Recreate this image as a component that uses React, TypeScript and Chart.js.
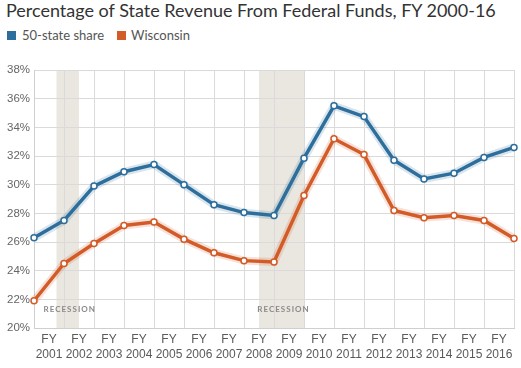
import React, { useEffect, useRef } from "react";
import { Chart, registerables } from "chart.js";

Chart.register(...registerables);

const years = ["2000", "2001", "2002", "2003", "2004", "2005", "2006", "2007", "2008", "2009", "2010", "2011", "2012", "2013", "2014", "2015", "2016"];
const tickYears = ["2001", "2002", "2003", "2004", "2005", "2006", "2007", "2008", "2009", "2010", "2011", "2012", "2013", "2014", "2015", "2016"];
const fiftyState = [26.3, 27.5, 29.9, 30.9, 31.4, 30.0, 28.6, 28.05, 27.85, 31.85, 35.5, 34.75, 31.7, 30.4, 30.8, 31.9, 32.6];
const wisconsin = [21.9, 24.5, 25.9, 27.15, 27.4, 26.2, 25.25, 24.7, 24.6, 29.25, 33.2, 32.1, 28.2, 27.7, 27.85, 27.5, 26.25];
const recessions = [
  [0.75, 1.5],
  [7.5, 9],
];
const recessionLabel = "RECESSION";
const title = "Percentage of State Revenue From Federal Funds, FY 2000-16";
const seriesNames = ["50-state share", "Wisconsin"];

const BLUE = "#2d6e9c";
const ORANGE = "#d25b27";

const recessionPlugin = {
  id: "recession",
  beforeDraw(chart: any) {
    const { ctx, chartArea, scales } = chart;
    const x = scales.x;
    ctx.save();
    ctx.fillStyle = "#e9e7df";
    recessions.forEach(([a, b]) => {
      const x0 = x.getPixelForValue(a);
      const x1 = x.getPixelForValue(b);
      ctx.fillRect(x0, chartArea.top, x1 - x0, chartArea.bottom - chartArea.top);
    });
    ctx.restore();
  },
  afterDatasetsDraw(chart: any) {
    const { ctx, chartArea, scales } = chart;
    const x = scales.x;
    ctx.save();
    ctx.fillStyle = "#8a8a8a";
    ctx.font = "bold 8px Lato";
    ctx.textAlign = "center";
    ctx.textBaseline = "middle";
    (ctx as any).letterSpacing = "1px";
    recessions.forEach(([a, b]) => {
      const cx = (x.getPixelForValue(a) + x.getPixelForValue(b)) / 2;
      ctx.fillText(recessionLabel, cx + 2, chartArea.bottom - 19);
    });
    ctx.restore();
  },
};

export default function App() {
  const ref = useRef<HTMLCanvasElement>(null);

  useEffect(() => {
    const canvas = ref.current!;
    const chart = new Chart(canvas, {
      type: "line",
      data: {
        labels: years,
        datasets: [
          {
            label: seriesNames[0],
            data: fiftyState,
            borderColor: BLUE,
            borderWidth: 3.5,
            pointRadius: 3,
            pointBackgroundColor: "#ffffff",
            pointBorderColor: BLUE,
            pointBorderWidth: 1.5,
            tension: 0,
            order: 1,
          },
          {
            label: seriesNames[1],
            data: wisconsin,
            borderColor: ORANGE,
            borderWidth: 3.5,
            pointRadius: 3,
            pointBackgroundColor: "#ffffff",
            pointBorderColor: ORANGE,
            pointBorderWidth: 1.5,
            tension: 0,
            order: 2,
          },
          {
            label: "glow1",
            data: fiftyState,
            borderColor: "rgba(45,110,156,0.18)",
            borderWidth: 8,
            pointRadius: 0,
            tension: 0,
            order: 5,
          },
          {
            label: "glow2",
            data: wisconsin,
            borderColor: "rgba(210,91,39,0.18)",
            borderWidth: 8,
            pointRadius: 0,
            tension: 0,
            order: 6,
          },
        ],
      },
      options: {
        responsive: false,
        animation: false,
        layout: { padding: { left: 0, right: 7, top: 70, bottom: 0 } },
        plugins: {
          legend: { display: false },
          tooltip: { enabled: false },
          title: { display: false },
        },
        scales: {
          x: {
            type: "category",
            position: "bottom",
            offset: false,
            ticks: { display: false },
            grid: { color: "#dadada", drawTicks: false, lineWidth: 1 },
            border: { color: "#cfcfcf" },
            afterFit(scale: any) {
              scale.height = 0;
            },
          },
          x2: {
            type: "category",
            position: "bottom",
            labels: tickYears.map((y) => ["FY", y]),
            offset: true,
            grid: { display: false, drawTicks: false },
            border: { display: false },
            ticks: {
              autoSkip: false,
              maxRotation: 0,
              padding: 4,
              color: "#5a5a5a",
              font: { family: "Liberation Sans", size: 12, lineHeight: 1.25 },
            },
            afterFit(scale: any) {
              scale.height = 40;
            },
          },
          y: {
            min: 20,
            max: 38,
            ticks: {
              stepSize: 2,
              padding: 4,
              color: "#666666",
              font: { family: "Liberation Sans", size: 11.5 },
              callback: (v: any) => v + "%",
            },
            grid: { color: "#dadada", drawTicks: false },
            border: { color: "#cfcfcf" },
            afterFit(scale: any) {
              scale.width = 34;
            },
          },
        },
      },
      plugins: [recessionPlugin],
    });
    return () => chart.destroy();
  }, []);

  return (
    <div style={{ position: "absolute", left: 0, top: 0, width: 521, height: 368, background: "#fff" }}>
      <div
        style={{
          position: "absolute",
          left: 6,
          top: -1,
          fontFamily: "Lato",
          fontSize: 18,
          lineHeight: "22px",
          color: "#333333",
          whiteSpace: "nowrap",
        }}
      >
        {title}
      </div>
      <div
        style={{
          position: "absolute",
          left: 7,
          top: 26,
          fontFamily: "Lato",
          fontSize: 13,
          lineHeight: "18px",
          color: "#555555",
          display: "flex",
          alignItems: "center",
          whiteSpace: "nowrap",
        }}
      >
        <span style={{ display: "inline-block", width: 9, height: 9, background: BLUE, marginRight: 6 }} />
        <span style={{ marginRight: 13 }}>{seriesNames[0]}</span>
        <span style={{ display: "inline-block", width: 9, height: 9, background: ORANGE, marginRight: 5 }} />
        <span>{seriesNames[1]}</span>
      </div>
      <canvas ref={ref} width={521} height={368} style={{ position: "absolute", left: 0, top: 0 }} />
    </div>
  );
}
